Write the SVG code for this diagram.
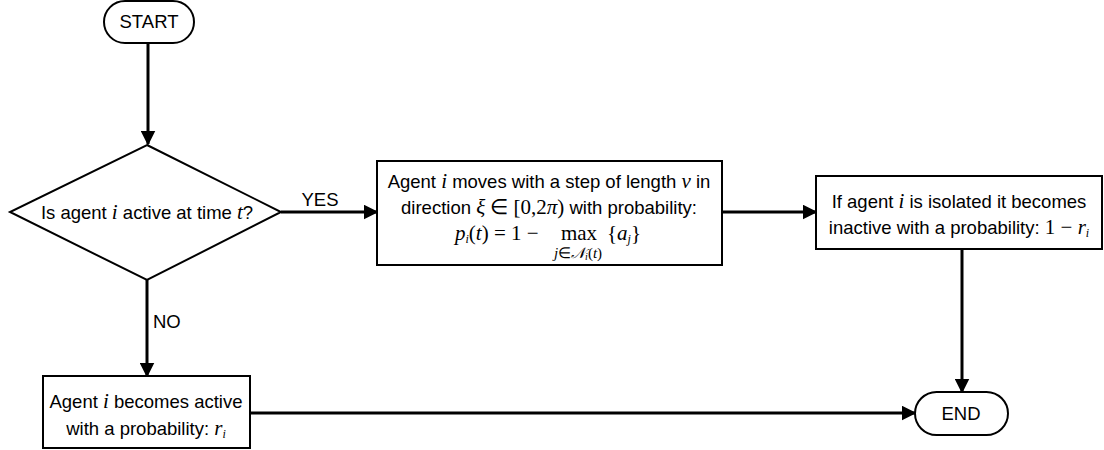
<svg xmlns="http://www.w3.org/2000/svg" width="1104" height="450" viewBox="0 0 1104 450">
  <style>
    .shape { fill: #ffffff; stroke: #000000; stroke-width: 2; }
    .edge { fill: none; stroke: #000000; stroke-width: 3; }
    .txt { font-family: "Liberation Sans", Arial, sans-serif; font-size: 18.5px; fill: #000000; }
    .math { font-family: "Liberation Serif", "Times New Roman", serif; font-style: italic; font-size: 21px; }
    .mathr { font-family: "Liberation Serif", "Times New Roman", serif; font-style: normal; font-size: 21px; }
    .sub { font-size: 12px; }
    .under { font-size: 15px; }
    .under2 { font-size: 10px; }
  </style>
  <defs>
    <marker id="arrow" viewBox="0 0 10 10" refX="9" refY="5" markerWidth="5" markerHeight="5" markerUnits="strokeWidth" orient="auto">
      <path d="M0,0 L10,5 L0,10 Z" fill="#000000"/>
    </marker>
  </defs>

  <rect width="1104" height="450" fill="#ffffff"/>

  <!-- connectors -->
  <g id="connectors">
    <line class="edge" x1="148" y1="43" x2="148" y2="144" marker-end="url(#arrow)"/>
    <line class="edge" x1="281" y1="212" x2="377" y2="212" marker-end="url(#arrow)"/>
    <line class="edge" x1="722" y1="212" x2="816" y2="212" marker-end="url(#arrow)"/>
    <line class="edge" x1="147" y1="280" x2="147" y2="376" marker-end="url(#arrow)"/>
    <line class="edge" x1="962" y1="249" x2="962" y2="392" marker-end="url(#arrow)"/>
    <line class="edge" x1="250" y1="413" x2="915" y2="413" marker-end="url(#arrow)"/>
    <text class="txt" x="320" y="206" text-anchor="middle">YES</text>
    <text class="txt" x="153" y="328">NO</text>
  </g>

  <!-- start terminal -->
  <g id="start">
    <rect class="shape" x="104" y="1" width="90" height="42" rx="21" ry="21"/>
    <text class="txt" x="149" y="28" text-anchor="middle">START</text>
  </g>

  <!-- decision -->
  <g id="decision">
    <polygon class="shape" points="147,145 281,212 147,280 10,212"/>
    <text class="txt" x="147" y="219" text-anchor="middle">Is agent <tspan class="math">i</tspan> active at time <tspan class="math">t</tspan>?</text>
  </g>

  <!-- movement step -->
  <g id="move">
    <rect class="shape" x="377" y="161" width="345" height="104"/>
    <text class="txt" x="549" y="188" text-anchor="middle">Agent <tspan class="math">i</tspan> moves with a step of length <tspan class="math">ν</tspan> in</text>
    <text class="txt" x="549" y="214" text-anchor="middle">direction <tspan class="math">ξ</tspan> <tspan class="mathr">∈ [0,2</tspan><tspan class="math">π</tspan><tspan class="mathr">)</tspan> with probability:</text>
    <text class="txt" x="455" y="240"><tspan class="math">p</tspan><tspan class="math sub" dy="3">i</tspan><tspan class="mathr" dy="-3">(</tspan><tspan class="math">t</tspan><tspan class="mathr">) = 1 −</tspan></text>
    <text class="txt mathr" x="579" y="240" text-anchor="middle">max</text>
    <text class="txt" x="607" y="240"><tspan class="mathr">{</tspan><tspan class="math">a</tspan><tspan class="math sub" dy="3">j</tspan><tspan class="mathr" dy="-3">}</tspan></text>
    <text class="txt" x="578" y="258" text-anchor="middle"><tspan class="math under">j</tspan><tspan class="mathr under">∈</tspan><tspan class="math under">𝒩</tspan><tspan class="math under2" dy="2">i</tspan><tspan class="mathr under" dy="-2">(</tspan><tspan class="math under">t</tspan><tspan class="mathr under">)</tspan></text>
  </g>

  <!-- isolation step -->
  <g id="isolate">
    <rect class="shape" x="816" y="176" width="286" height="73"/>
    <text class="txt" x="959" y="208" text-anchor="middle">If agent <tspan class="math">i</tspan> is isolated it becomes</text>
    <text class="txt" x="959" y="234" text-anchor="middle">inactive with a probability: <tspan class="mathr">1 − </tspan><tspan class="math">r</tspan><tspan class="math sub" dy="3">i</tspan></text>
  </g>

  <!-- activation step -->
  <g id="activate">
    <rect class="shape" x="43" y="376" width="207" height="72"/>
    <text class="txt" x="146" y="408" text-anchor="middle">Agent <tspan class="math">i</tspan> becomes active</text>
    <text class="txt" x="146" y="435" text-anchor="middle">with a probability: <tspan class="math">r</tspan><tspan class="math sub" dy="3">i</tspan></text>
  </g>

  <!-- end terminal -->
  <g id="end">
    <rect class="shape" x="915" y="392" width="93" height="43" rx="21.5" ry="21.5"/>
    <text class="txt" x="961" y="420" text-anchor="middle">END</text>
  </g>
</svg>
